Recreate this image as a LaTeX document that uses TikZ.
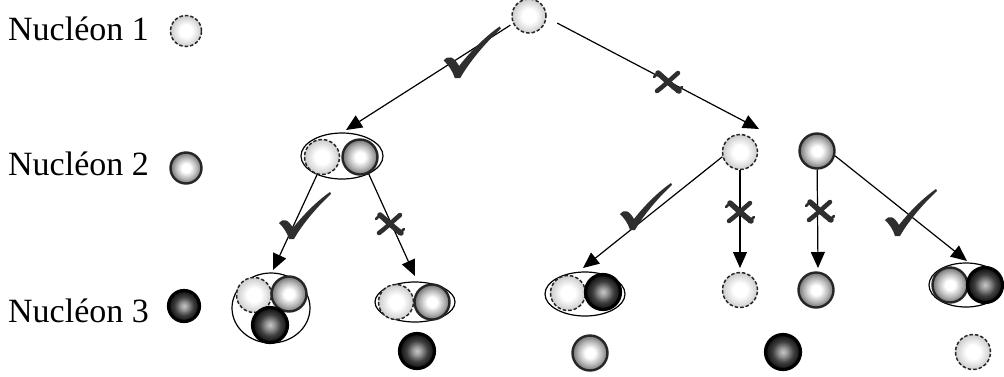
\documentclass[tikz,border=0pt]{standalone}
\usepackage{fontspec}
\setmainfont{Liberation Serif}
\usetikzlibrary{arrows.meta,shapes.geometric}
\pgfdeclareradialshading{nOne}{\pgfpoint{0bp}{0bp}}{color(0bp)=(white); color(10bp)=(white); color(25bp)=(black!20); color(50bp)=(black!20)}
\pgfdeclareradialshading{nTwo}{\pgfpoint{0bp}{0bp}}{color(0bp)=(white); color(7bp)=(white); color(17bp)=(black!28); color(25bp)=(black!55); color(50bp)=(black!55)}
\pgfdeclareradialshading{nThree}{\pgfpoint{0bp}{0bp}}{color(0bp)=(black!22); color(6bp)=(black!40); color(15bp)=(black!75); color(25bp)=(black!95); color(50bp)=(black!95)}
\colorlet{markc}{black!82}
\tikzset{
  n1/.style={circle, minimum size=35pt, inner sep=0pt, shading=nOne, draw=black!85, line width=1.5pt, dash pattern=on 3.5pt off 2pt},
  n2/.style={circle, minimum size=35pt, inner sep=0pt, shading=nTwo, draw=black!85, line width=2.4pt},
  n3/.style={circle, minimum size=35pt, inner sep=0pt, shading=nThree, draw=black, line width=3.2pt},
  small/.style={minimum size=31pt},
  grp/.style={ellipse, draw, line width=1.2pt, inner sep=0pt},
  arr/.style={line width=1.2pt, -{Triangle[length=16pt,width=14pt]}},
  lab/.style={font=\fontsize{34}{40}\selectfont, anchor=base west, inner sep=0pt},
  chk/.pic={\fill[markc] (-13,-15) .. controls (-9,-20) and (-4,-19) .. (1,-10) .. controls (11,-23) and (25,-37) .. (38,-46) -- (39,-44) .. controls (27,-33) and (11,-15) .. (2,1) -- (-3,1) .. controls (-5,-6) and (-9,-11) .. cycle;},
  crs/.pic={
    \draw[markc, line width=5.5pt, line cap=round] (-10,-9) .. controls (-3,-3) and (3,3) .. (11,9);
    \draw[markc, line width=4.5pt, line cap=round] (10,-9) .. controls (3,-3) and (-3,3) .. (-11,9);
    \draw[markc, line width=2.5pt, line cap=round] (-14,-5) -- (-9,-10) (14,5) -- (9,10);},
}
\begin{document}
\begin{tikzpicture}[x=1pt,y=-1pt]
\useasboundingbox (0,0) rectangle (1004,376);
% legend
\node[lab] (lab1) at (8,40) {Nucléon 1};
\node[n1,small] (leg1) at (186,31) {};
\node[lab] (lab2) at (8,175) {Nucléon 2};
\node[n2,small] (leg2) at (186,168) {};
\node[lab] (lab3) at (8,322) {Nucléon 3};
\node[n3,small] (leg3) at (184,306) {};
% level 1
\node[n1, minimum size=34pt] (top) at (529,16) {};
% level 2
\node[grp, minimum width=82pt, minimum height=46pt] (e2) at (342,156) {};
\node[n1] (e2a) at (322,157) {};
\node[n2] (e2b) at (360,157) {};
\node[n1] (d2) at (740,152) {};
\node[n2] (f2) at (817,151) {};
% level 3
\node[grp, minimum width=78pt, minimum height=70pt] (g3) at (271,308) {};
\node[n1] (g3a) at (254,295) {};
\node[n2] (g3b) at (289,294) {};
\node[n3] (g3c) at (270,325) {};
\node[grp, minimum width=80pt, minimum height=40pt] (h3) at (415,302) {};
\node[n1] (h3a) at (396,302) {};
\node[n2] (h3b) at (432,302) {};
\node[n3] (h3x) at (417,351) {};
\node[grp, minimum width=80pt, minimum height=44pt] (i3) at (585,294) {};
\node[n1] (i3a) at (568,293) {};
\node[n3] (i3b) at (603,292) {};
\node[n2] (i3x) at (590,353) {};
\node[n1] (j3) at (740,290) {};
\node[n2] (k3) at (816,290) {};
\node[n3] (k3x) at (783,352) {};
\node[grp, minimum width=74pt, minimum height=44pt] (l3) at (966,285) {};
\node[n2] (l3a) at (950,285) {};
\node[n3] (l3b) at (985,285) {};
\node[n1] (l3x) at (973,352) {};
% arrow tips
\coordinate (t1) at (346,130);
\coordinate (t2) at (759,129);
\coordinate (t3) at (273,270);
\coordinate (t4) at (415,276);
\coordinate (t5) at (583,268);
\coordinate (t6) at (740,268);
\coordinate (t7) at (818,268);
\coordinate (t8) at (967,261);
% connectors
\draw[arr, shorten <=3pt] (top.205) -- (t1);
\draw[arr, shorten <=12pt] (top.-5) -- (t2);
\draw[arr] (e2.217) -- (t3);
\draw[arr] (e2.-34) -- (t4);
\draw[arr] (d2.195) -- (t5);
\draw[arr] (d2) -- (t6);
\draw[arr] (f2) -- (t7);
\draw[arr] (f2.-15) -- (t8);
% marks
\pic[scale=1.1] at (458,77) {chk};
\pic at (292,238) {chk};
\pic at (633,229) {chk};
\pic at (898,235) {chk};
\pic at (668,82) {crs};
\pic at (390,224) {crs};
\pic at (740,212) {crs};
\pic at (820,211) {crs};
\end{tikzpicture}
\end{document}
